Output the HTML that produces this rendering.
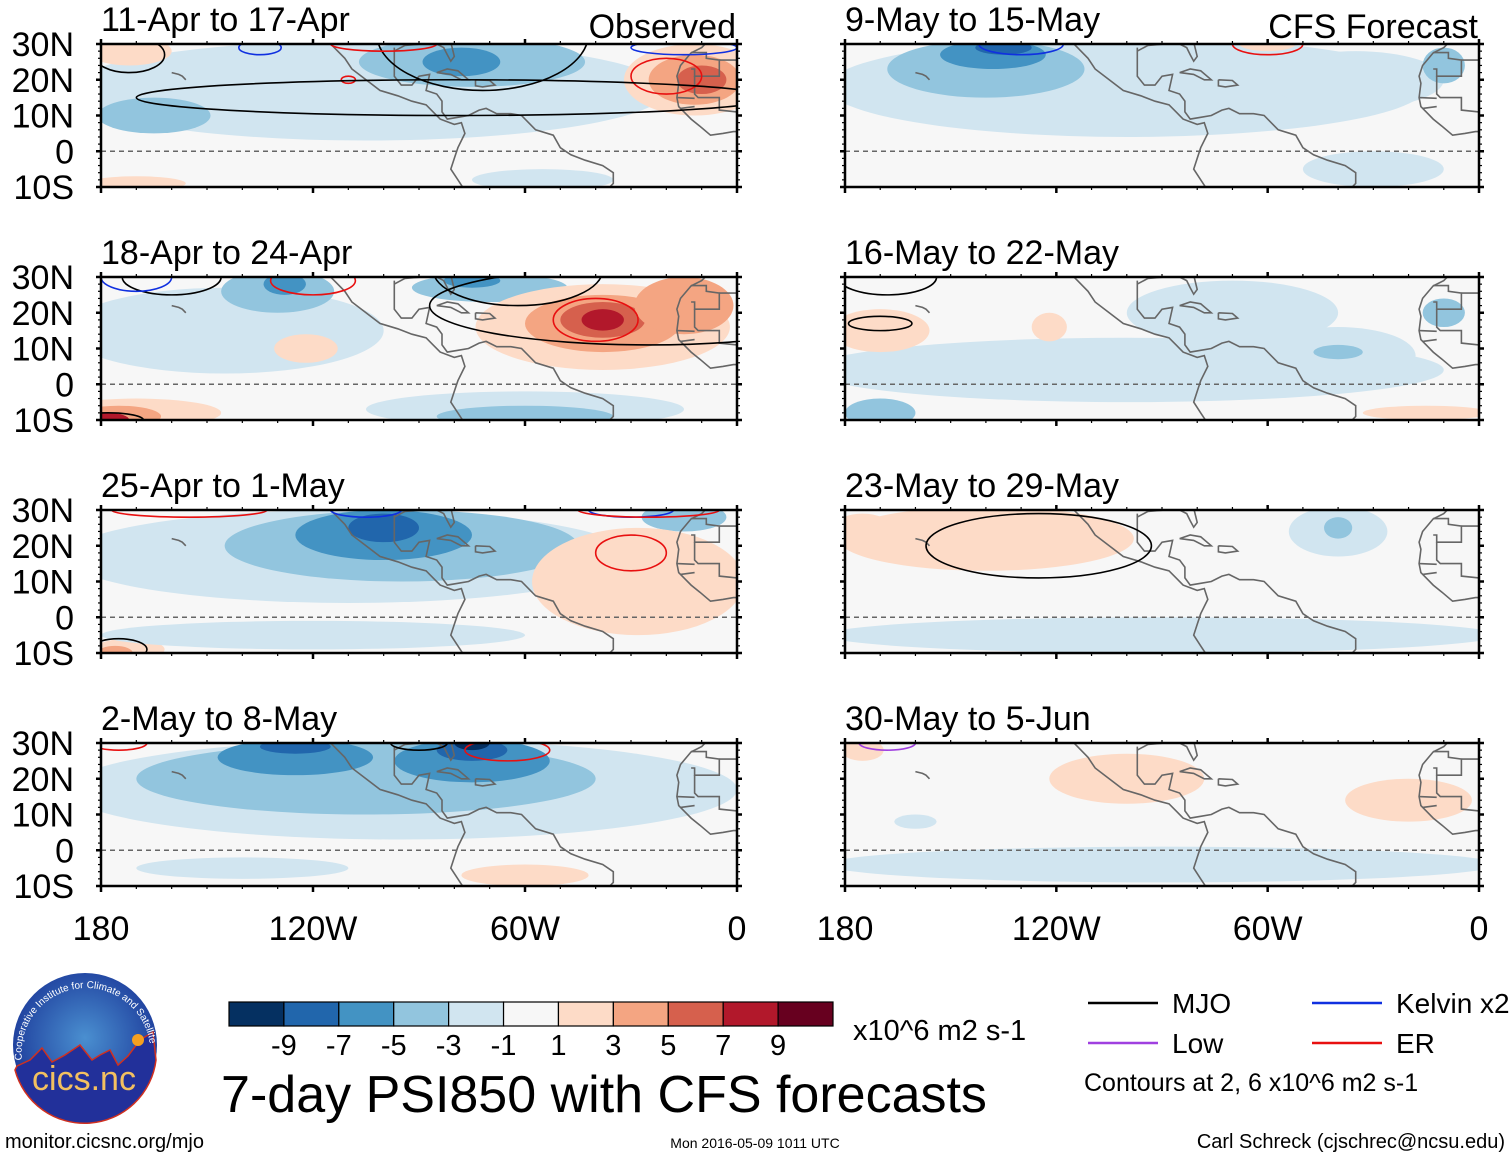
<!DOCTYPE html>
<html><head><meta charset="utf-8">
<style>
body{margin:0;background:#fff;}
svg{display:block;font-family:"Liberation Sans",sans-serif;}
</style></head>
<body>
<svg id="fig" width="1510" height="1158" viewBox="0 0 1510 1158">
<g id="panels"></g>
<g id="bottom"></g>
</svg>
<script>
// ---- data ----
const levelValues = [-9,-7,-5,-3,-1,1,3,5,7,9];
const levelColors = ["#053061","#2166ac","#4393c3","#92c5de","#d1e5f0","#f7f7f7","#fddbc7","#f4a582","#d6604d","#b2182b","#67001f"];
const panelTitles = ["11-Apr to 17-Apr","18-Apr to 24-Apr","25-Apr to 1-May","2-May to 8-May","9-May to 15-May","16-May to 22-May","23-May to 29-May","30-May to 5-Jun"];
const latTicks = [30,20,10,0,-10];
const latLabels = ["30N","20N","10N","0","10S"];
const lonTicks = [180,120,60,0];
const lonLabels = ["180","120W","60W","0"];
// anomaly blobs per panel: [lonW, lat, rxDeg, ryDeg, value]
const blobs = [
 [[105,17,85,14,-1],[165,10,16,5,-3],[75,25,32,7,-3],[78,25,11,4,-5],[12,20,20,10,1],[12,20,13,7,3],[10,20,7,4,5],[172,28,12,4,1],[170,-9,14,2,1],[55,-8,20,3,-1]],
 [[145,15,45,12,-1],[130,26,16,6,-3],[128,28,6,3,-5],[70,27,22,4,-3],[75,29,8,2,-5],[38,16,36,12,1],[38,17,22,8,3],[38,18,12,5,5],[38,18,6,3,7],[15,22,14,8,3],[122,10,9,4,1],[170,-8,24,4,1],[175,-9,12,3,3],[178,-10,6,2,7],[60,-7,45,5,-1],[60,-9,25,3,-3]],
 [[110,17,80,13,-1],[95,20,50,10,-3],[100,23,25,7,-5],[100,25,10,4,-7],[15,28,12,4,-3],[28,10,30,15,1],[172,-9,10,3,1],[176,-10,5,2,3],[120,-5,60,4,-1]],
 [[95,17,95,14,-1],[105,20,65,10,-3],[125,26,22,5,-5],[75,25,22,6,-5],[125,29,10,2,-7],[75,28,10,3,-7],[75,30,5,2,-9],[60,-7,18,3,1],[140,-5,30,3,-1]],
 [[100,18,85,14,-1],[140,23,28,8,-3],[138,27,15,4,-5],[135,29,8,2,-7],[35,20,25,8,-1],[10,24,6,5,-3],[60,30,8,2,1],[30,-5,20,5,-1]],
 [[100,4,90,9,-1],[70,20,30,9,-1],[40,8,22,8,-1],[40,9,7,2,-3],[10,20,6,4,-3],[170,15,14,6,1],[122,16,5,4,1],[170,-8,10,4,-3],[15,-8,18,2,1]],
 [[140,22,42,9,1],[90,-5,95,5,-1],[40,24,14,7,-1],[40,25,4,3,-3],[175,25,8,4,1]],
 [[100,20,22,7,1],[20,14,18,6,1],[90,-4,95,5,-1],[160,8,6,2,-1],[175,28,6,3,1]]
];
// contours: [lonW, lat, rxDeg, ryDeg, colorIndex] 0=MJO black,1=Kelvin blue,2=ER red,3=Low purple
const contourColors = ["#000","#1030e0","#e81010","#a040e0"];
const contours = [
 [[72,33,30,16,0],[172,27,10,5,0],[135,29,6,2,1],[110,20,2,1,2],[20,21,10,5,2],[80,15,90,5,0],[100,30,15,2,2],[15,29,15,2,1]],
 [[160,30,14,5,0],[170,30,10,4,1],[120,29,12,4,2],[40,18,12,6,2],[62,32,24,10,0],[25,22,62,11,0],[178,-10,10,2,0]],
 [[155,30,22,2,2],[105,30,10,2,1],[30,18,10,5,2],[30,30,12,2,1],[25,30,20,2,2],[175,-9,8,3,0]],
 [[175,30,8,2,2],[65,28,12,3,2],[90,30,8,2,0]],
 [[130,30,12,3,1],[60,30,10,3,2]],
 [[168,30,14,5,0],[170,17,9,2,0]],
 [[125,20,32,9,0]],
 [[168,30,8,2,3]]
];
// rough coastlines (lonW, lat)
const coastAmericas = [[116,31],[114,29],[111,26],[109,23],[105,20],[101,17],[96,15.5],[92,14],[88,13],[86,11],[84,9],[80,7.5],[78,8],[77,5],[79,1],[80,-2],[81,-5],[79,-8],[77,-11]];
const coastGulf = [[97,29],[97,25],[97,21],[95,18.5],[92,18.5],[90,21],[87,21.5],[88,17],[85,16],[83.5,14],[83.5,11],[82,9],[79,9.5],[76,10],[73,11.5],[71,12],[68,10.5],[64,10.5],[61,10],[57,6],[52,4.5],[50,1],[47,-1],[43,-2.5],[38,-4],[35,-6],[35,-9],[37,-11]];
const coastUS = [[97,28],[94,29.6],[89,30],[85,30],[83,29],[82,27],[81,25.2],[80,26.5],[80.5,28.5],[81,30.5]];
const cuba = [[85,22],[82,23],[79,22.5],[76,20],[78,20],[81,21.5],[85,22]];
const hisp = [[74,20],[70,19.8],[68.5,18.5],[72,18],[74,18.3],[74,20]];
const coastAfrica = [[8,31],[10,29],[13,27.5],[16,24],[17,21],[16.5,19],[17,15],[16.5,12.5],[15,11],[13,9],[10.5,7],[7.5,4.5],[4,5],[1,5.5],[0,5.5]];
const afrBorders = [[[13,27.6],[8.7,27.6],[8.7,26],[5,25.5],[5,21],[12,21],[12,23],[13,23]],[[5,25.5],[0,25.5]],[[12,21],[12,16],[11,15],[5,15],[5,11.5],[0,11]],[[17,15],[12,14.8]],[[16,12],[12,12.5]]];
const hawaii = [[160,22],[158,21.5],[157,21],[156,20]];

const NS='http://www.w3.org/2000/svg';
function mk(tag, attrs, parent){const e=document.createElementNS(NS,tag);for(const k in attrs)e.setAttribute(k,attrs[k]);parent.appendChild(e);return e;}
const colX=[101,845], W=[636,634];
const rowY=[44,277,510,743], H=143;
const panelsG=document.getElementById('panels');
function colorFor(v){const i=levelValues.findIndex(t=>v<=t);return levelColors[i<0?10:(v<0?i:i+1)];}

for(let p=0;p<8;p++){
  const col=p<4?0:1,row=p%4;
  const x0=colX[col],y0=rowY[row],w=W[col];
  const X=l=>x0+(180-l)/180*w;
  const Y=la=>y0+(30-la)/40*H;
  const sx=w/180, sy=H/40;
  const g=mk('g',{},panelsG);
  
  
  const cid='clip'+p;
  const cp=mk('clipPath',{id:cid},g);mk('rect',{x:x0,y:y0,width:w,height:H},cp);
  const bg=mk('rect',{x:x0,y:y0,width:w,height:H,fill:'#f7f7f7'},g);
  
  
  const ig=mk('g',{'clip-path':'url(#'+cid+')'},g);
  blobs[p].forEach(b=>{
    const e=mk('ellipse',{cx:X(b[0]),cy:Y(b[1]),rx:b[2]*sx,ry:b[3]*sy,fill:colorFor(b[4])},ig);
    
    
  });
  const eq=mk('line',{x1:x0,x2:x0+w,y1:Y(0),y2:Y(0),stroke:'#666','stroke-width':1.5,'stroke-dasharray':'5,4'},ig);
  
  
  const pts=a=>a.map(q=>X(q[0]).toFixed(1)+','+Y(q[1]).toFixed(1)).join(' ');
  [coastAmericas,coastGulf,coastUS,cuba,hisp,coastAfrica,hawaii].concat(afrBorders).forEach(c=>{
    const pl=mk('polyline',{points:pts(c),fill:'none',stroke:'#666','stroke-width':1.6},ig);
    
    
  });
  contours[p].forEach(c=>{
    const e=mk('ellipse',{cx:X(c[0]),cy:Y(c[1]),rx:c[2]*sx,ry:c[3]*sy,fill:'none',stroke:contourColors[c[4]],'stroke-width':1.6},ig);
    
    
  });
  const fr=mk('rect',{x:x0,y:y0,width:w,height:H,fill:'none',stroke:'#000','stroke-width':2.5},g);
  
  
  for(let l=180;l>=0;l-=10){
    const maj=l%60===0;
    mk('line',{x1:X(l),x2:X(l),y1:y0,y2:y0-(maj?5:3),stroke:'#000','stroke-width':maj?2.5:1.2},g);
    mk('line',{x1:X(l),x2:X(l),y1:y0+H,y2:y0+H+(maj?6:3),stroke:'#000','stroke-width':maj?2.5:1.2},g);
  }
  for(let la=30;la>=-10;la-=2){
    const maj=la%10===0;
    mk('line',{x1:x0,x2:x0-(maj?5:3),y1:Y(la),y2:Y(la),stroke:'#000','stroke-width':maj?2.5:1.2},g);
    mk('line',{x1:x0+w,x2:x0+w+(maj?5:3),y1:Y(la),y2:Y(la),stroke:'#000','stroke-width':maj?2.5:1.2},g);
  }
  const t=mk('text',{x:x0,y:y0-13,'font-size':34},g);t.textContent=panelTitles[p];
  
  
  if(col===0){
    latTicks.forEach((la,i)=>{
      const tl=mk('text',{x:74,y:Y(la)+12,'font-size':34,'text-anchor':'end'},g);tl.textContent=latLabels[i];
      
      
    });
  }
  if(row===3){
    lonTicks.forEach((l,i)=>{
      const tl=mk('text',{x:X(l),y:940,'font-size':34,'text-anchor':'middle'},g);tl.textContent=lonLabels[i];
      
      
    });
  }
  if(p===0||p===4){
    const s=mk('text',{x:x0+w-1,y:y0-6,'font-size':34,'text-anchor':'end'},g);s.textContent=p===0?'Observed':'CFS Forecast';
    
    
  }
}

const bg=document.getElementById('bottom');
const cbX=229,cbY=1002,cbW=604/11;
levelColors.forEach((c,i)=>{
  const r=mk('rect',{x:cbX+i*cbW,y:cbY,width:cbW,height:24,fill:c,stroke:'#000','stroke-width':1.2},bg);
  
  
});
levelValues.forEach((v,i)=>{
  if(Math.abs(v)%2===0)return;
  const t=mk('text',{x:cbX+(i+1)*cbW,y:1055,'font-size':29,'text-anchor':'middle'},bg);t.textContent=String(v);
  
  
});
function txt(x,y,s,str,name,anchor){const t=mk('text',{x:x,y:y,'font-size':s,'text-anchor':anchor||'start'},bg);t.textContent=str;
  
  return t;}
txt(853,1040,29,'x10^6 m2 s-1','colorbar-units');
txt(604,1112,52,'7-day PSI850 with CFS forecasts','figure-title','middle');
txt(5,1148,20,'monitor.cicsnc.org/mjo','url-text');
txt(755,1148,14,'Mon 2016-05-09 1011 UTC','timestamp','middle');
txt(1505,1148,20,'Carl Schreck (cjschrec@ncsu.edu)','author-text','end');
const legItems=[[1088,1003,'#000','MJO'],[1312,1003,'#1030e0','Kelvin x2'],[1088,1043,'#a040e0','Low'],[1312,1043,'#e81010','ER']];
legItems.forEach(l=>{
  const ln=mk('line',{x1:l[0],x2:l[0]+70,y1:l[1],y2:l[1],stroke:l[2],'stroke-width':2.5},bg);
  
  
  txt(l[0]+84,l[1]+10,28,l[3],'legend-entry');
});
txt(1084,1091,25,'Contours at 2, 6 x10^6 m2 s-1','contour-note');
const defs=mk('defs',{},bg);
const rg=mk('radialGradient',{id:'lg',cx:'50%',cy:'45%',r:'55%'},defs);
mk('stop',{offset:'0%','stop-color':'#4a8fd0'},rg);mk('stop',{offset:'100%','stop-color':'#1c3a9a'},rg);
const logo=mk('g',{},bg);


mk('circle',{cx:85,cy:1045,r:72,fill:'url(#lg)'},logo);
mk('path',{d:'M17,1066 L30,1060 L42,1048 L52,1062 L65,1055 L80,1045 L92,1060 L100,1055 L110,1050 L118,1065 L128,1056 L140,1040 L153,1032 L156,1060 A72,72 0 0 1 15,1070 Z',fill:'#22309a',stroke:'#d03020','stroke-width':1.5},logo);
mk('circle',{cx:138,cy:1040,r:6,fill:'#f5a020'},logo);
const lt=mk('text',{x:84,y:1090,'font-size':34,'text-anchor':'middle',fill:'#f3c060'},logo);lt.textContent='cics.nc';
mk('path',{id:'arc',d:'M22,1060 A64,64 0 1 1 150,1045',fill:'none'},defs);
const at=mk('text',{'font-size':10,fill:'#fff'},logo);
const tp=mk('textPath',{href:'#arc'},at);tp.textContent='Cooperative Institute for Climate and Satellites';
</script>
</body></html>
